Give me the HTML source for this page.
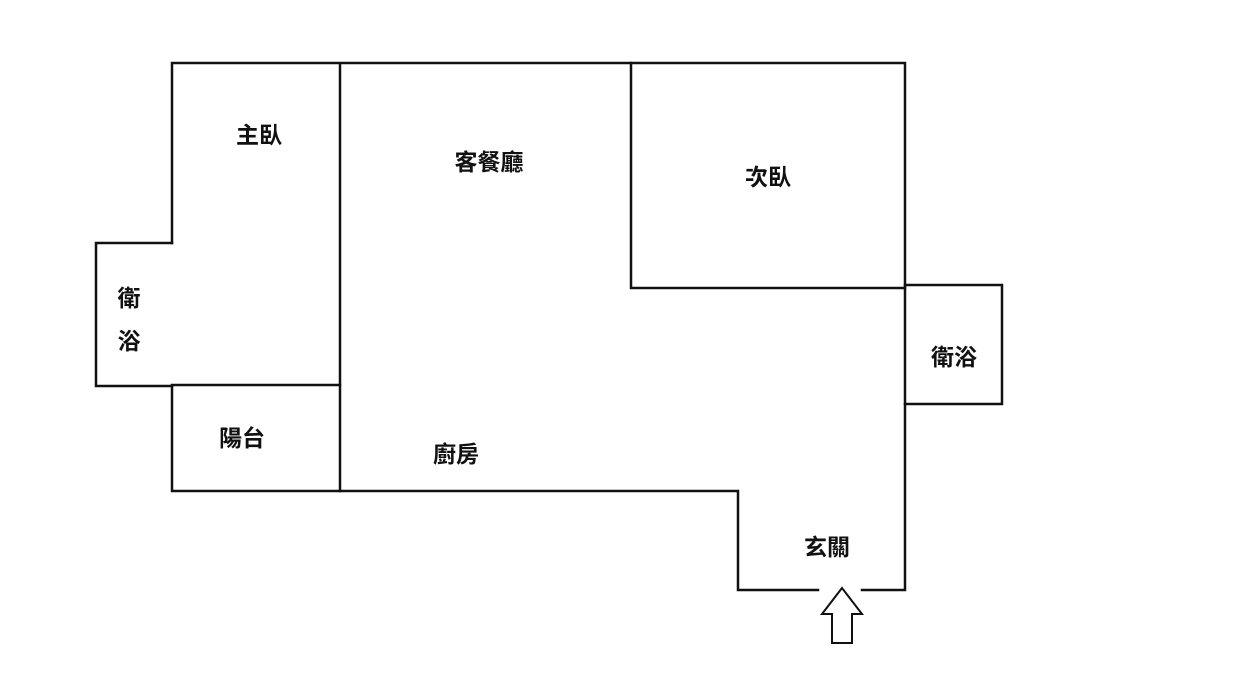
<!DOCTYPE html>
<html><head><meta charset="utf-8"><style>
html,body{margin:0;padding:0;background:#fff;}
text{font-family:"Liberation Sans","Noto Sans CJK TC",sans-serif;font-size:23px;font-weight:bold;fill:#111;text-anchor:middle;dominant-baseline:central;}
</style></head><body>
<svg width="1234" height="677" viewBox="0 0 1234 677" xmlns="http://www.w3.org/2000/svg">
<g stroke="#111" stroke-width="2.5" fill="none" stroke-linecap="square">
<polyline points="172,243 172,63 905,63 905,590 862,590"/>
<polyline points="818,590 738,590 738,491 172,491 172,385 340,385"/>
<polyline points="172,243 96,243 96,386 172,386"/>
<line x1="340" y1="65" x2="340" y2="491"/>
<polyline points="631,63 631,288 905,288"/>
<polyline points="905,285 1002,285 1002,404 905,404"/>
<polygon points="842,588 822,614 832,614 832,643 852,643 852,614 862,614" stroke-width="2"/>
</g>
<text x="259" y="135">主臥</text>
<text x="489" y="162">客餐廳</text>
<text x="768" y="177">次臥</text>
<text x="129" y="298">衛</text>
<text x="129" y="341">浴</text>
<text x="954" y="357">衛浴</text>
<text x="242" y="438">陽台</text>
<text x="456" y="454">廚房</text>
<text x="827" y="547">玄關</text>
</svg>
</body></html>
